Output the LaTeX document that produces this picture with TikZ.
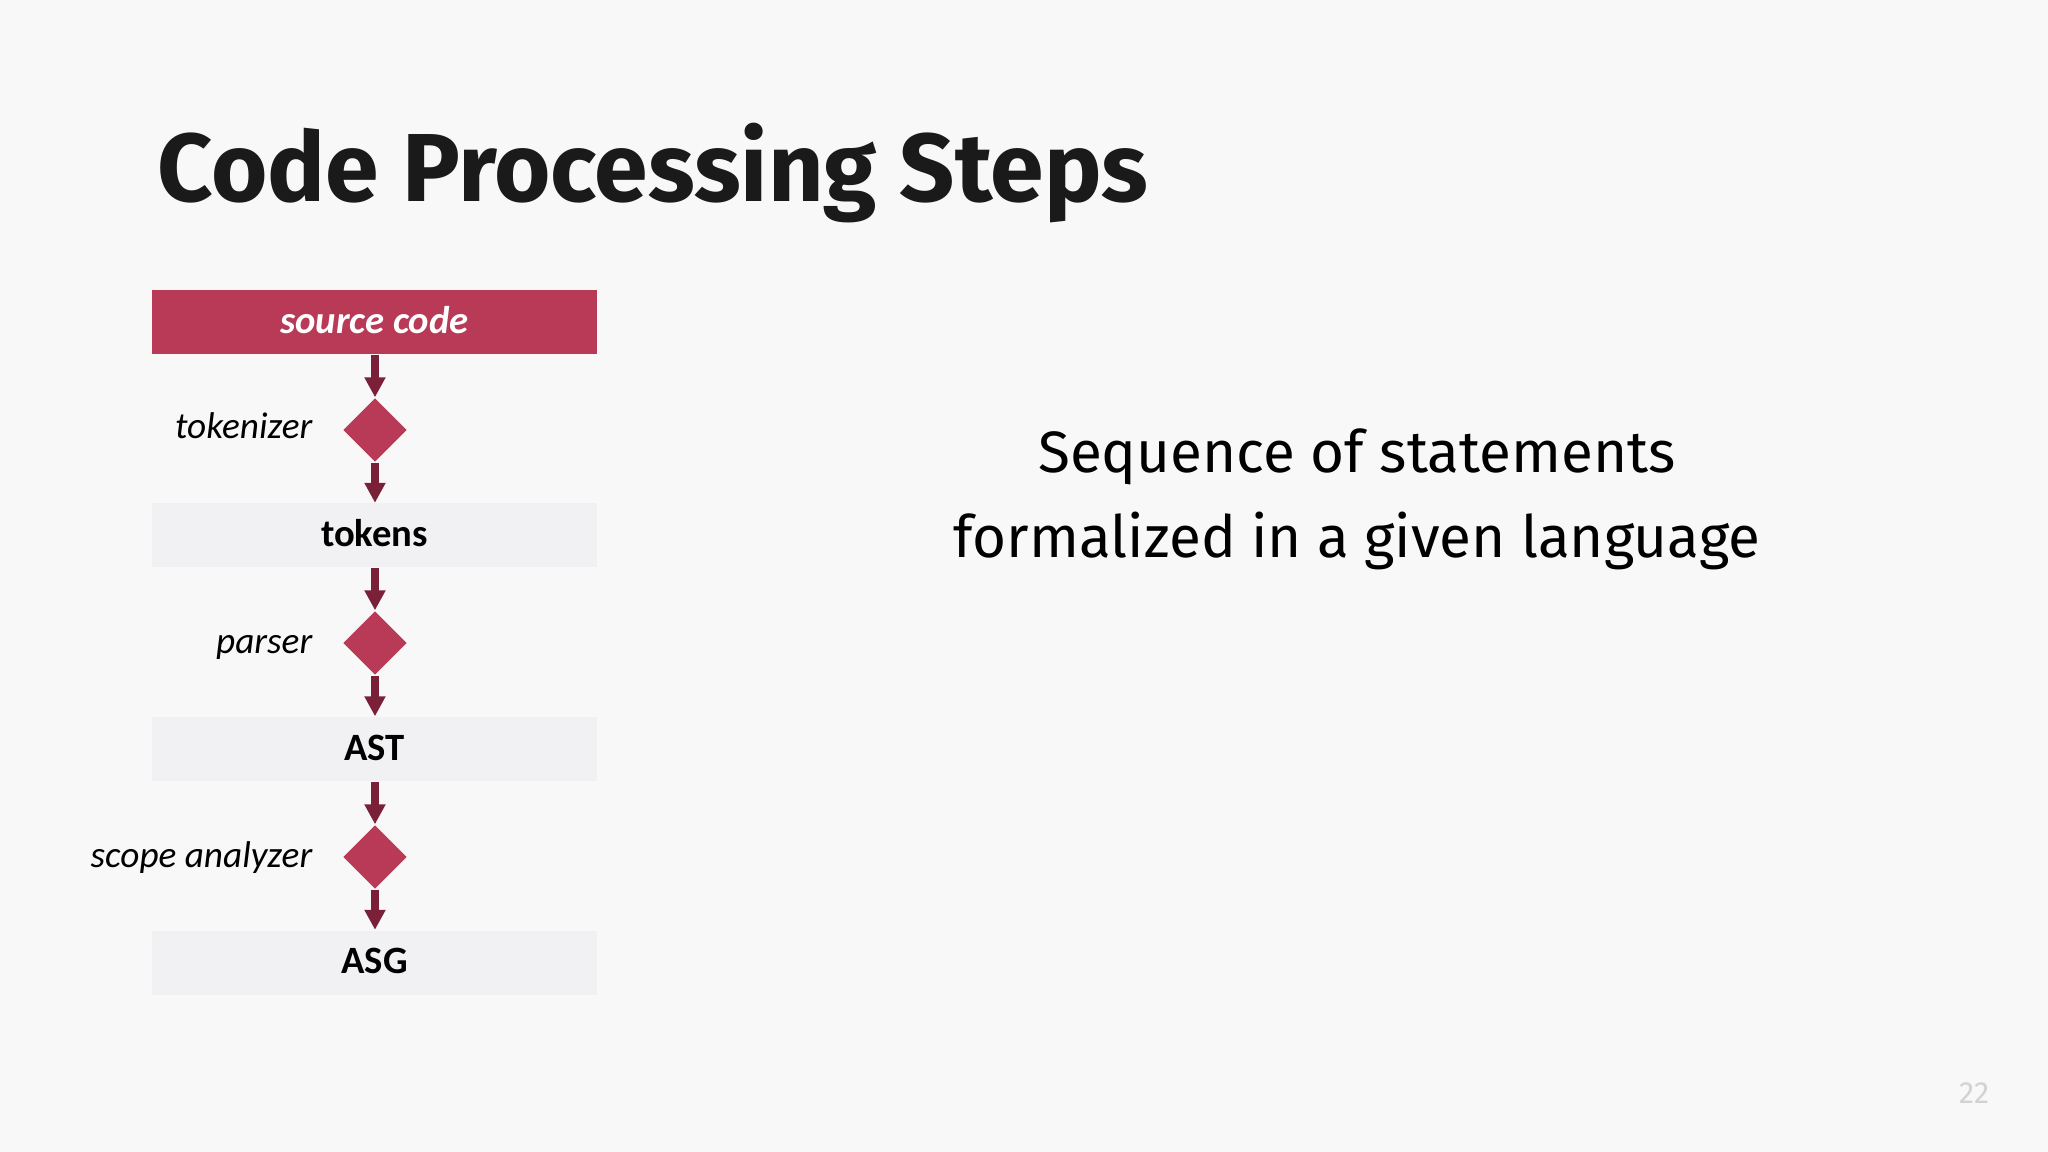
\documentclass[tikz,border=0pt]{standalone}
\usepackage{fontspec}
\setmainfont{Fira Sans}
\newfontfamily\calib{Carlito}
\usetikzlibrary{shapes.geometric,arrows.meta}
\definecolor{bg}{HTML}{F8F8F8}
\definecolor{boxred}{HTML}{B83A56}
\definecolor{arrowred}{HTML}{7A2139}
\definecolor{boxgray}{HTML}{F1F1F3}
\definecolor{titleink}{HTML}{1A1A1A}
\definecolor{pagegray}{HTML}{D2D2D2}
\tikzset{
  stagebox/.style={rectangle, minimum width=4.45cm, minimum height=0.64cm, inner sep=0pt,
    text height=6.5pt, text depth=0pt, font=\calib\fontsize{11}{13}\selectfont\bfseries},
  srcbox/.style={stagebox, fill=boxred, text=white, font=\calib\fontsize{11}{13}\selectfont\bfseries\itshape},
  graybox/.style={stagebox, fill=boxgray, text=black},
  tooldiamond/.style={diamond, shape aspect=1, fill=boxred, minimum width=0.64cm, minimum height=0.64cm, inner sep=0pt},
  toollabel/.style={anchor=base east, inner sep=0pt, font=\calib\fontsize{10.6}{13}\selectfont\itshape, text=black},
  flow/.style={draw=arrowred, line width=0.08cm, -{Triangle[width=0.2cm,length=0.2cm]}, shorten <=0pt, shorten >=0pt},
  bodytext/.style={anchor=base, inner sep=0pt, font=\fontsize{16.6}{20}\selectfont, text=black},
}
\begin{document}
\begin{tikzpicture}
\fill[bg] (0,0) rectangle (20.48,-11.52);
\useasboundingbox (0,0) rectangle (20.48,-11.52);

\node[anchor=base west, inner sep=0pt, text=titleink, font=\fontsize{27.5}{32}\selectfont\bfseries] (title) at (1.57,-2.02) {Code Processing Steps};

\node[srcbox] (src) at (3.745,-3.22) {source code};
\node[graybox] (tokens) at (3.745,-5.355) {tokens};
\node[graybox] (ast) at (3.745,-7.49) {AST};
\node[graybox] (asg) at (3.745,-9.625) {ASG};

\node[tooldiamond] (tok) at (3.75,-4.30) {};
\node[tooldiamond] (par) at (3.75,-6.43) {};
\node[tooldiamond] (sco) at (3.75,-8.57) {};

\node[toollabel] (toklbl) at (3.13,-4.39) {tokenizer};
\node[toollabel] (parlbl) at (3.13,-6.53) {parser};
\node[toollabel] (scolbl) at (3.13,-8.68) {scope analyzer};

\draw[flow] (src.south -| tok.north) -- (tok.north);
\draw[flow] (tok.south) -- (tokens.north -| tok.south);
\draw[flow] (tokens.south -| par.north) -- (par.north);
\draw[flow] (par.south) -- (ast.north -| par.south);
\draw[flow] (ast.south -| sco.north) -- (sco.north);
\draw[flow] (sco.south) -- (asg.north -| sco.south);

\node[bodytext] (line1) at (13.57,-4.73) {Sequence of statements};
\node[bodytext] (line2) at (13.57,-5.58) {formalized in a given language};

\node[anchor=base east, inner sep=0pt, text=pagegray, font=\fontsize{8.7}{10}\selectfont] (pagenum) at (19.90,-11.03) {22};
\end{tikzpicture}
\end{document}
